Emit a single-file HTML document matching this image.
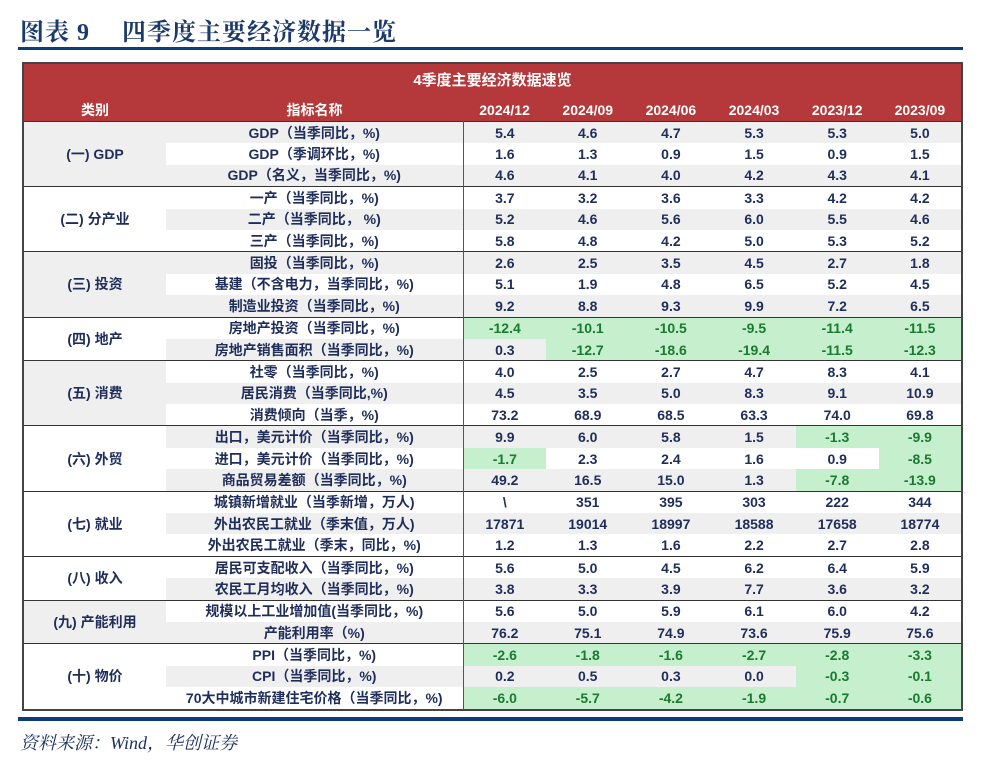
<!DOCTYPE html>
<html><head><meta charset="utf-8"><style>
body{margin:0;width:988px;height:770px;background:#fff;position:relative;overflow:hidden;font-family:"Liberation Sans","Noto Sans CJK SC",sans-serif;}
.title{position:absolute;left:20px;top:12px;font-family:"Liberation Serif","Noto Serif CJK SC",serif;font-size:24px;font-weight:bold;color:#1b3a6b;letter-spacing:1px;}
.l1{position:absolute;left:18px;top:47px;width:945px;height:3px;background:#0d3c7c;}
.l2{position:absolute;left:18px;top:717px;width:945px;height:4px;background:#0d3c7c;}
.src{position:absolute;left:20px;top:729px;font-family:"Liberation Serif","Noto Serif CJK SC",serif;font-style:italic;font-size:18px;color:#1b2f5e;}
table{position:absolute;left:22px;top:62px;width:941px;border-collapse:collapse;table-layout:fixed;border:2px solid #444;}
td{padding:0;height:21.4px;line-height:18px;text-align:center;font-weight:bold;font-size:14px;color:#1f2d5a;white-space:nowrap;overflow:hidden;}
tr.cap td{background:#b5383a;color:#fff;height:34px;font-size:15px;}
tr.hd td{background:#b5383a;color:#fff;height:23px;font-size:14px;}
tr.g td{background:#efefef;}
tr.gs td{border-top:1.5px solid #333;}
td.c{font-size:14px;}
td.n{border-right:1.5px solid #555;}
tr td.gr,tr.g td.gr{background:#c6efce;color:#1a7a30;}
td.cg{background:#efefef !important;}
td.cw{background:#fff !important;}
</style></head><body>
<div class="title">图表 9　 四季度主要经济数据一览</div>
<div class="l1"></div>
<table>
<colgroup><col style="width:143px"><col style="width:297px"><col><col><col><col><col><col></colgroup>
<tr class="cap"><td colspan="8">4季度主要经济数据速览</td></tr>
<tr class="hd"><td>类别</td><td>指标名称</td><td>2024/12</td><td>2024/09</td><td>2024/06</td><td>2024/03</td><td>2023/12</td><td>2023/09</td></tr>

<tr class="g gs"><td class="c cg" rowspan="3">(一) GDP</td><td class="n">GDP（当季同比，%)</td><td>5.4</td><td>4.6</td><td>4.7</td><td>5.3</td><td>5.3</td><td>5.0</td></tr>
<tr><td class="n">GDP（季调环比，%)</td><td>1.6</td><td>1.3</td><td>0.9</td><td>1.5</td><td>0.9</td><td>1.5</td></tr>
<tr class="g"><td class="n">GDP（名义，当季同比，%)</td><td>4.6</td><td>4.1</td><td>4.0</td><td>4.2</td><td>4.3</td><td>4.1</td></tr>

<tr class="gs"><td class="c cw" rowspan="3">(二) 分产业</td><td class="n">一产（当季同比，%)</td><td>3.7</td><td>3.2</td><td>3.6</td><td>3.3</td><td>4.2</td><td>4.2</td></tr>
<tr class="g"><td class="n">二产（当季同比， %)</td><td>5.2</td><td>4.6</td><td>5.6</td><td>6.0</td><td>5.5</td><td>4.6</td></tr>
<tr><td class="n">三产（当季同比，%)</td><td>5.8</td><td>4.8</td><td>4.2</td><td>5.0</td><td>5.3</td><td>5.2</td></tr>

<tr class="g gs"><td class="c cg" rowspan="3">(三) 投资</td><td class="n">固投（当季同比，%)</td><td>2.6</td><td>2.5</td><td>3.5</td><td>4.5</td><td>2.7</td><td>1.8</td></tr>
<tr><td class="n">基建（不含电力，当季同比，%)</td><td>5.1</td><td>1.9</td><td>4.8</td><td>6.5</td><td>5.2</td><td>4.5</td></tr>
<tr class="g"><td class="n">制造业投资（当季同比，%)</td><td>9.2</td><td>8.8</td><td>9.3</td><td>9.9</td><td>7.2</td><td>6.5</td></tr>

<tr class="gs"><td class="c cw" rowspan="2">(四) 地产</td><td class="n">房地产投资（当季同比，%)</td><td class="gr">-12.4</td><td class="gr">-10.1</td><td class="gr">-10.5</td><td class="gr">-9.5</td><td class="gr">-11.4</td><td class="gr">-11.5</td></tr>
<tr class="g"><td class="n">房地产销售面积（当季同比，%)</td><td>0.3</td><td class="gr">-12.7</td><td class="gr">-18.6</td><td class="gr">-19.4</td><td class="gr">-11.5</td><td class="gr">-12.3</td></tr>

<tr class="gs"><td class="c cg" rowspan="3">(五) 消费</td><td class="n">社零（当季同比，%)</td><td>4.0</td><td>2.5</td><td>2.7</td><td>4.7</td><td>8.3</td><td>4.1</td></tr>
<tr class="g"><td class="n">居民消费（当季同比,%)</td><td>4.5</td><td>3.5</td><td>5.0</td><td>8.3</td><td>9.1</td><td>10.9</td></tr>
<tr><td class="n">消费倾向（当季，%)</td><td>73.2</td><td>68.9</td><td>68.5</td><td>63.3</td><td>74.0</td><td>69.8</td></tr>

<tr class="g gs"><td class="c cw" rowspan="3">(六) 外贸</td><td class="n">出口，美元计价（当季同比，%)</td><td>9.9</td><td>6.0</td><td>5.8</td><td>1.5</td><td class="gr">-1.3</td><td class="gr">-9.9</td></tr>
<tr><td class="n">进口，美元计价（当季同比，%)</td><td class="gr">-1.7</td><td>2.3</td><td>2.4</td><td>1.6</td><td>0.9</td><td class="gr">-8.5</td></tr>
<tr class="g"><td class="n">商品贸易差额（当季同比，%)</td><td>49.2</td><td>16.5</td><td>15.0</td><td>1.3</td><td class="gr">-7.8</td><td class="gr">-13.9</td></tr>

<tr class="gs"><td class="c cw" rowspan="3">(七) 就业</td><td class="n">城镇新增就业（当季新增，万人)</td><td>\</td><td>351</td><td>395</td><td>303</td><td>222</td><td>344</td></tr>
<tr class="g"><td class="n">外出农民工就业（季末值，万人)</td><td>17871</td><td>19014</td><td>18997</td><td>18588</td><td>17658</td><td>18774</td></tr>
<tr><td class="n">外出农民工就业（季末，同比，%)</td><td>1.2</td><td>1.3</td><td>1.6</td><td>2.2</td><td>2.7</td><td>2.8</td></tr>

<tr class="gs"><td class="c cw" rowspan="2">(八) 收入</td><td class="n">居民可支配收入（当季同比，%)</td><td>5.6</td><td>5.0</td><td>4.5</td><td>6.2</td><td>6.4</td><td>5.9</td></tr>
<tr class="g"><td class="n">农民工月均收入（当季同比，%)</td><td>3.8</td><td>3.3</td><td>3.9</td><td>7.7</td><td>3.6</td><td>3.2</td></tr>

<tr class="gs"><td class="c cg" rowspan="2">(九) 产能利用</td><td class="n">规模以上工业增加值(当季同比，%)</td><td>5.6</td><td>5.0</td><td>5.9</td><td>6.1</td><td>6.0</td><td>4.2</td></tr>
<tr class="g"><td class="n">产能利用率（%)</td><td>76.2</td><td>75.1</td><td>74.9</td><td>73.6</td><td>75.9</td><td>75.6</td></tr>

<tr class="gs"><td class="c cw" rowspan="3">(十) 物价</td><td class="n">PPI（当季同比，%)</td><td class="gr">-2.6</td><td class="gr">-1.8</td><td class="gr">-1.6</td><td class="gr">-2.7</td><td class="gr">-2.8</td><td class="gr">-3.3</td></tr>
<tr class="g"><td class="n">CPI（当季同比，%)</td><td>0.2</td><td>0.5</td><td>0.3</td><td>0.0</td><td class="gr">-0.3</td><td class="gr">-0.1</td></tr>
<tr><td class="n">70大中城市新建住宅价格（当季同比，%)</td><td class="gr">-6.0</td><td class="gr">-5.7</td><td class="gr">-4.2</td><td class="gr">-1.9</td><td class="gr">-0.7</td><td class="gr">-0.6</td></tr>
</table>
<div class="l2"></div>
<div class="src">资料来源：Wind，华创证券</div>
</body></html>
